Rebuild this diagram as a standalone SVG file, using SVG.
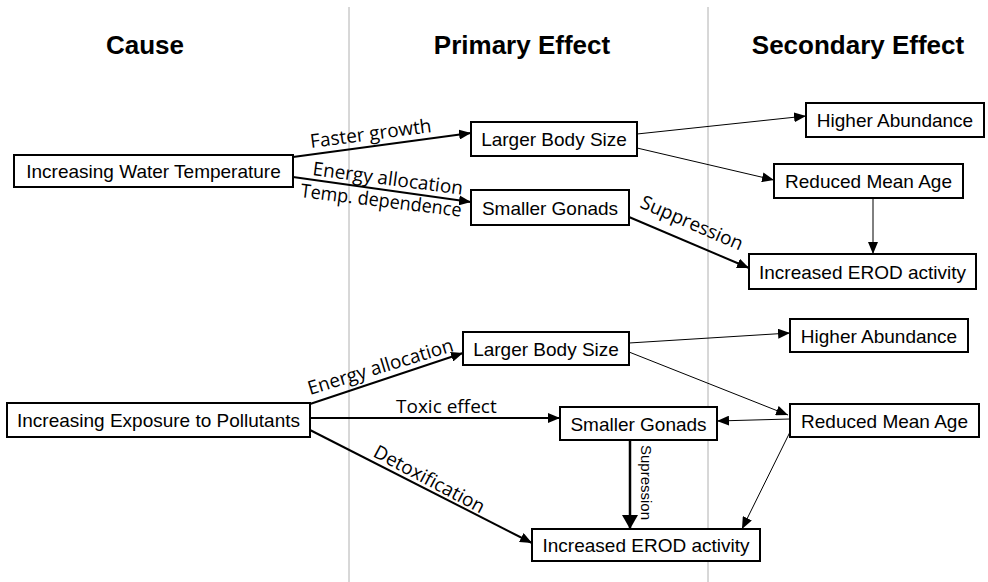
<svg xmlns="http://www.w3.org/2000/svg" width="988" height="582" viewBox="0 0 988 582">
<defs>
<style>
.bg{fill:#fff}
.sep{stroke:#b0b0b0;stroke-width:1;fill:none}
.hdr{font-family:"Liberation Sans",Arial,sans-serif;font-weight:bold;font-size:26px;fill:#000;text-anchor:middle}
.box{fill:#fff;stroke:#000;stroke-width:2}
.bt{font-family:"Liberation Sans",Arial,sans-serif;font-size:19px;fill:#000;text-anchor:middle}
.lbl{font-family:"Open Sans","Noto Sans",sans-serif;font-size:19px;fill:#000}
.thick{stroke:#000;stroke-width:2;fill:none;marker-end:url(#ah)}
.thin{stroke:#000;stroke-width:1;fill:none;marker-end:url(#ah)}
.fat{stroke:#000;stroke-width:2.5;fill:none;marker-end:url(#big)}
</style>
<marker id="ah" viewBox="0 0 12 10" refX="12" refY="5" markerWidth="12" markerHeight="10" markerUnits="userSpaceOnUse" orient="auto">
<path d="M0,0 L12,5 L0,10 z" fill="#000"/>
</marker>
<marker id="big" viewBox="0 0 14 16" refX="14" refY="8" markerWidth="14" markerHeight="16" markerUnits="userSpaceOnUse" orient="auto">
<path d="M0,0 L14,8 L0,16 z" fill="#000"/>
</marker>
</defs>
<rect class="bg" x="0" y="0" width="988" height="582"/>
<g id="separators">
<line class="sep" x1="349" y1="7" x2="349" y2="582"/>
<line class="sep" x1="708" y1="7" x2="708" y2="582"/>
</g>
<g id="headers">
<text class="hdr" x="145" y="54">Cause</text>
<text class="hdr" x="522" y="54">Primary Effect</text>
<text class="hdr" x="858" y="54">Secondary Effect</text>
</g>
<g id="connectors">
<line class="thick" x1="293" y1="157" x2="471" y2="133"/>
<line class="thick" x1="293" y1="177" x2="471" y2="202"/>
<line class="thin" x1="637" y1="134" x2="806" y2="116"/>
<line class="thin" x1="637" y1="148" x2="774" y2="180"/>
<line class="thin" x1="873" y1="198" x2="873" y2="254"/>
<line class="thick" x1="629" y1="217" x2="749" y2="268"/>
<line class="thick" x1="310" y1="404" x2="463" y2="353"/>
<line class="thick" x1="310" y1="418" x2="560" y2="418"/>
<line class="thick" x1="310" y1="430" x2="532" y2="543"/>
<line class="thin" x1="629" y1="343" x2="790" y2="333"/>
<line class="thin" x1="629" y1="352" x2="788" y2="415"/>
<line class="thin" x1="790" y1="419" x2="717" y2="421"/>
<line class="thin" x1="790" y1="432" x2="742" y2="529"/>
<line class="fat" x1="630" y1="440" x2="630" y2="529"/>
<text class="lbl" transform="translate(311,148) rotate(-7.5)">Faster growth</text>
<text class="lbl" transform="translate(312,175) rotate(7.5)">Energy allocation</text>
<text class="lbl" transform="translate(300,197) rotate(7)" textLength="162" lengthAdjust="spacingAndGlyphs">Temp. dependence</text>
<text class="lbl" transform="translate(639,207) rotate(23.5)">Suppression</text>
<text class="lbl" transform="translate(310,395) rotate(-17)">Energy allocation</text>
<text class="lbl" x="396" y="413">Toxic effect</text>
<text class="lbl" transform="translate(372,456) rotate(28)">Detoxification</text>
<text class="bt" style="font-size:15px;text-anchor:start" transform="translate(641,445) rotate(90)">Supression</text>
</g>
<g id="n-water-temp"><rect class="box" x="14" y="155" width="279" height="32"/><text class="bt" x="153.5" y="178">Increasing Water Temperature</text></g>
<g id="n-lbs1"><rect class="box" x="471" y="122" width="166" height="34"/><text class="bt" x="554" y="146">Larger Body Size</text></g>
<g id="n-sg1"><rect class="box" x="471" y="190" width="158" height="35"/><text class="bt" x="550" y="214.5">Smaller Gonads</text></g>
<g id="n-ha1"><rect class="box" x="806" y="103" width="178" height="34"/><text class="bt" x="895" y="127">Higher Abundance</text></g>
<g id="n-rma1"><rect class="box" x="774" y="164" width="189" height="34"/><text class="bt" x="868.5" y="188">Reduced Mean Age</text></g>
<g id="n-erod1"><rect class="box" x="749" y="254" width="227" height="35"/><text class="bt" x="862.5" y="278.5">Increased EROD activity</text></g>
<g id="n-pollutants"><rect class="box" x="7" y="403" width="303" height="34"/><text class="bt" x="158.5" y="427">Increasing Exposure to Pollutants</text></g>
<g id="n-lbs2"><rect class="box" x="463" y="332" width="166" height="33"/><text class="bt" x="546" y="355.5">Larger Body Size</text></g>
<g id="n-ha2"><rect class="box" x="790" y="319" width="178" height="33"/><text class="bt" x="879" y="342.5">Higher Abundance</text></g>
<g id="n-sg2"><rect class="box" x="560" y="407" width="157" height="33"/><text class="bt" x="638.5" y="430.5">Smaller Gonads</text></g>
<g id="n-rma2"><rect class="box" x="790" y="404" width="189" height="33"/><text class="bt" x="884.5" y="427.5">Reduced Mean Age</text></g>
<g id="n-erod2"><rect class="box" x="532" y="529" width="228" height="32"/><text class="bt" x="646" y="552">Increased EROD activity</text></g>
</svg>
